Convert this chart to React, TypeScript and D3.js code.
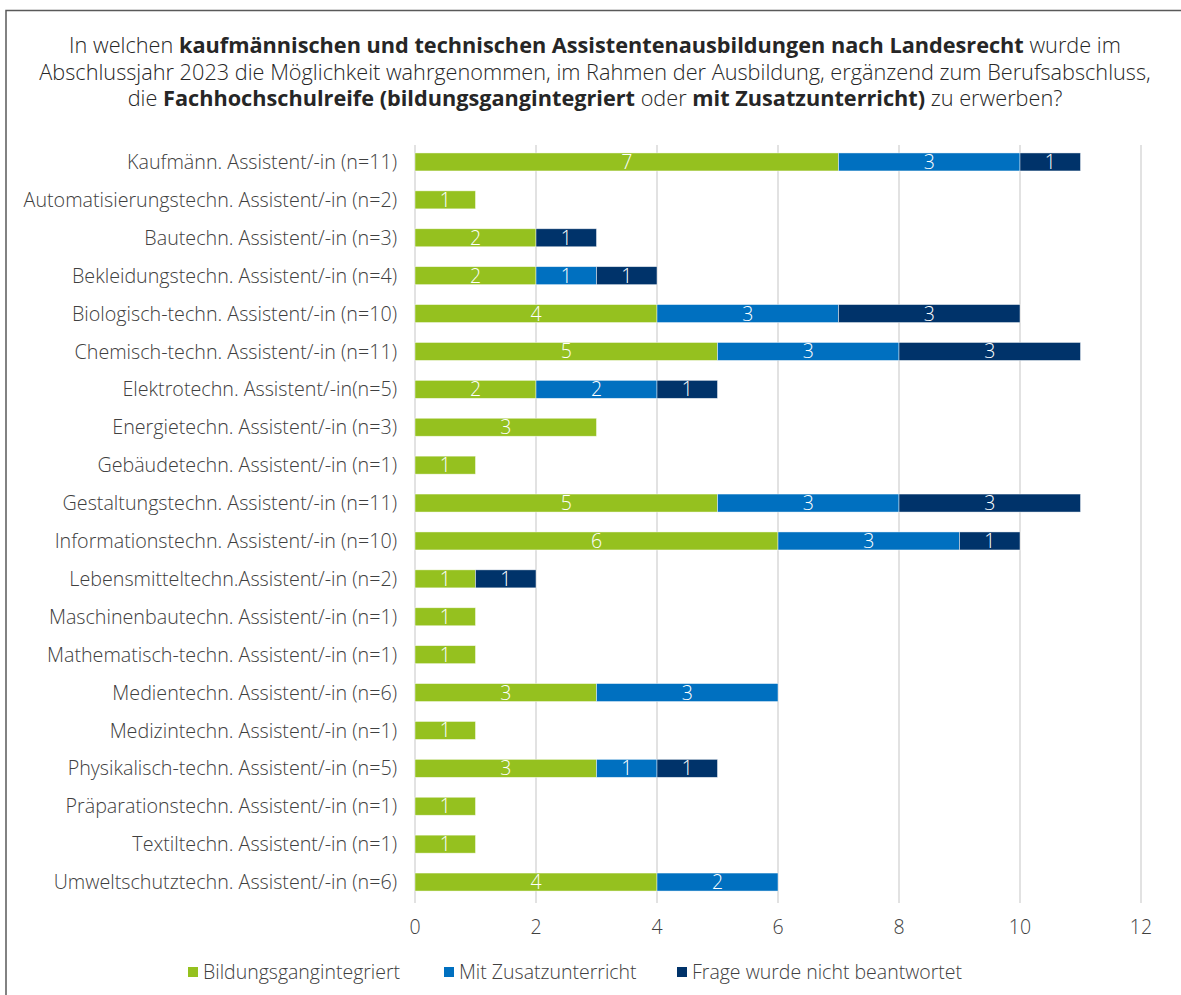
import React from 'react';
import * as d3 from 'd3';

const categories = [
  'Kaufmänn. Assistent/-in (n=11)',
  'Automatisierungstechn. Assistent/-in (n=2)',
  'Bautechn. Assistent/-in (n=3)',
  'Bekleidungstechn. Assistent/-in (n=4)',
  'Biologisch-techn. Assistent/-in (n=10)',
  'Chemisch-techn. Assistent/-in (n=11)',
  'Elektrotechn. Assistent/-in(n=5)',
  'Energietechn. Assistent/-in (n=3)',
  'Gebäudetechn. Assistent/-in (n=1)',
  'Gestaltungstechn. Assistent/-in (n=11)',
  'Informationstechn. Assistent/-in (n=10)',
  'Lebensmitteltechn.Assistent/-in (n=2)',
  'Maschinenbautechn. Assistent/-in (n=1)',
  'Mathematisch-techn. Assistent/-in (n=1)',
  'Medientechn. Assistent/-in (n=6)',
  'Medizintechn. Assistent/-in (n=1)',
  'Physikalisch-techn. Assistent/-in (n=5)',
  'Präparationstechn. Assistent/-in (n=1)',
  'Textiltechn. Assistent/-in (n=1)',
  'Umweltschutztechn. Assistent/-in (n=6)',
];

const bildungsgang = [7, 1, 2, 2, 4, 5, 2, 3, 1, 5, 6, 1, 1, 1, 3, 1, 3, 1, 1, 4];
const zusatz = [3, 0, 0, 1, 3, 3, 2, 0, 0, 3, 3, 0, 0, 0, 3, 0, 1, 0, 0, 2];
const keineAntwort = [1, 0, 1, 1, 3, 3, 1, 0, 0, 3, 1, 1, 0, 0, 0, 0, 1, 0, 0, 0];

const seriesNames = ['Bildungsgangintegriert', 'Mit Zusatzunterricht', 'Frage wurde nicht beantwortet'];
const colors = ['#95C11F', '#0070C0', '#00336A'];
const xTicks = [0, 2, 4, 6, 8, 10, 12];

const FONT = '"Open Sans", "Noto Sans", sans-serif';

const App: React.FC = () => {
  const W = 1181;
  const H = 995;

  const x = d3.scaleLinear().domain([0, 12]).range([415, 1141]);
  const y = d3
    .scaleBand<string>()
    .domain(categories)
    .range([143, 901])
    .paddingInner(0.525)
    .paddingOuter(0.2625);

  const rows = categories.map((c, i) => ({
    cat: c,
    Bildungsgangintegriert: bildungsgang[i],
    'Mit Zusatzunterricht': zusatz[i],
    'Frage wurde nicht beantwortet': keineAntwort[i],
  }));
  const stacked = d3.stack<any>().keys(seriesNames)(rows);

  const legendX = [188, 444, 677];

  return (
    <svg
      width={W}
      height={H}
      style={{ position: 'absolute', left: 0, top: 0, fontFamily: FONT, fontWeight: 300 }}
    >
      <rect x={0} y={0} width={W} height={H} fill="#fff" />
      <path d={`M6,${H} V10.5 H${W}`} fill="none" stroke="#595959" strokeWidth={1.5} />

      <g fontSize={21.7} fill="#262626" textAnchor="middle">
        <text x={595} y={53}>
          In welchen <tspan fontWeight="bold">kaufmännischen und technischen Assistentenausbildungen nach Landesrecht</tspan> wurde im
        </text>
        <text x={595} y={80}>
          Abschlussjahr 2023 die Möglichkeit wahrgenommen, im Rahmen der Ausbildung, ergänzend zum Berufsabschluss,
        </text>
        <text x={595} y={106}>
          die <tspan fontWeight="bold">Fachhochschulreife (bildungsgangintegriert</tspan> oder <tspan fontWeight="bold">mit Zusatzunterricht)</tspan> zu erwerben?
        </text>
      </g>

      {xTicks.map(t => (
        <line key={t} x1={x(t)} x2={x(t)} y1={145} y2={903} stroke="#D9D9D9" strokeWidth={1.5} />
      ))}

      {stacked.map((s, si) => (
        <g key={s.key}>
          {s.map((d, i) => {
            const v = d[1] - d[0];
            if (v <= 0) return null;
            const y0 = y(categories[i])!;
            const bw = y.bandwidth();
            return (
              <g key={i}>
                <rect
                  x={x(d[0])}
                  y={y0}
                  width={x(d[1]) - x(d[0])}
                  height={bw}
                  fill={colors[si]}
                  stroke="#ffffff"
                  strokeOpacity={0.6}
                  strokeWidth={0.75}
                />
                <text
                  x={(x(d[0]) + x(d[1])) / 2}
                  y={y0 + bw / 2}
                  dy="0.36em"
                  textAnchor="middle"
                  fontSize={19.5}
                  fill="#fff"
                >
                  {v}
                </text>
              </g>
            );
          })}
        </g>
      ))}

      <g fontSize={19.7} fill="#404040" textAnchor="end">
        {categories.map(c => (
          <text key={c} x={397} y={y(c)! + y.bandwidth() / 2} dy="0.36em">
            {c}
          </text>
        ))}
      </g>

      <g fontSize={19.5} fill="#404040" textAnchor="middle">
        {xTicks.map(t => (
          <text key={t} x={x(t)} y={927} dy="0.36em">
            {t}
          </text>
        ))}
      </g>

      <g fontSize={19.5} fill="#404040">
        {seriesNames.map((n, i) => (
          <g key={n} transform={`translate(${legendX[i]},972)`}>
            <rect x={0} y={-5} width={10} height={10} fill={colors[i]} />
            <text x={15} y={0} dy="0.36em">
              {n}
            </text>
          </g>
        ))}
      </g>
    </svg>
  );
};

export default App;
